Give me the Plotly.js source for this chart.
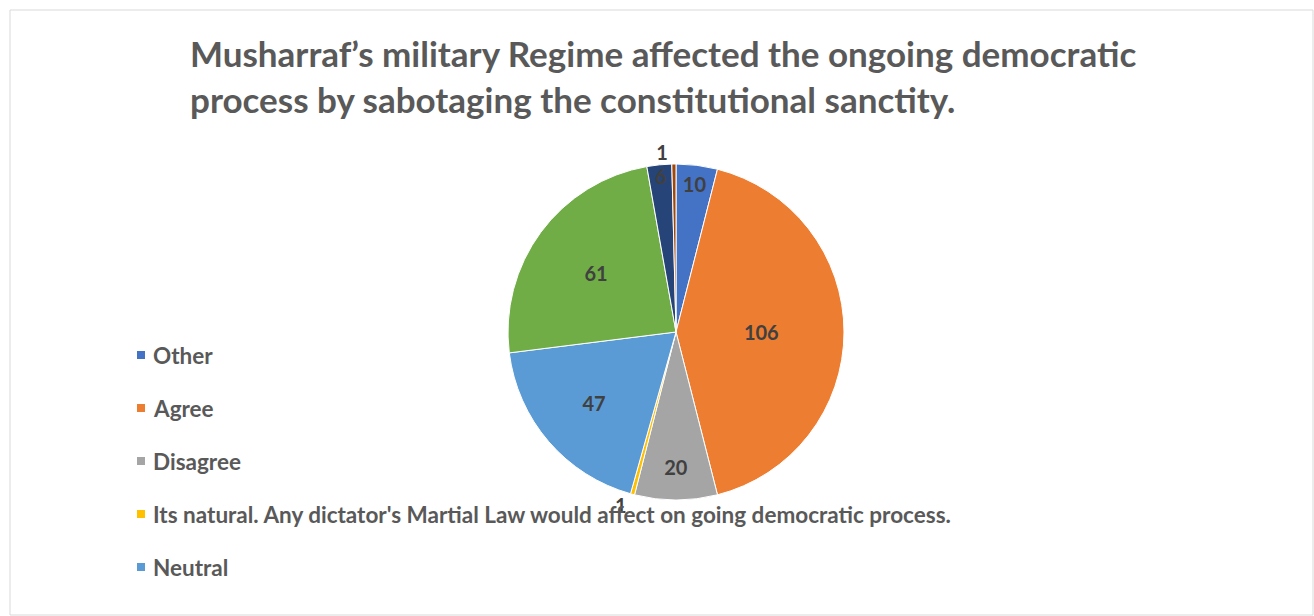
<!DOCTYPE html>
<html><head><meta charset="utf-8">
<script src="https://cdn.plot.ly/plotly-3.0.1.min.js"></script>
<style>html,body{margin:0;padding:0;background:#fff;}#chart{width:1314px;height:616px;}</style>
</head><body><div id="chart"></div>
<script>
const categories = ["Other", "Agree", "Disagree",
  "Its natural. Any dictator's Martial Law would affect on going democratic process.",
  "Neutral", "Strongly Agree", "Strongly Disagree", "No Response"];
const values = [10, 106, 20, 1, 47, 61, 6, 1];
const colors = ["#4472C4", "#ED7D31", "#A5A5A5", "#FFC000", "#5B9BD5", "#70AD47", "#264478", "#9E480E"];
const legendShown = 5;
const titleText = "Musharraf\u2019s military Regime affected the ongoing democratic<br>process by sabotaging the constitutional sanctity.";

const W = 1314, H = 616;
const px = x => x / W, py = y => 1 - y / H;

const textpos = values.map(v => v <= 1 ? "outside" : "inside");
const labelFont = {family: "Lato, 'Liberation Sans', sans-serif", size: 20, color: "#404040", weight: "bold"};

const trace = {
  type: "pie",
  labels: categories,
  values: values,
  sort: false,
  direction: "clockwise",
  rotation: 0,
  marker: {colors: colors, line: {color: "#ffffff", width: 1}},
  textinfo: "value",
  textposition: textpos,
  insidetextorientation: "horizontal",
  textfont: labelFont,
  outsidetextfont: labelFont,
  domain: {x: [px(506), px(846)], y: [py(500), py(164)]},
  showlegend: false,
  hoverinfo: "label+value+percent"
};

const annotations = [{
  text: titleText, xref: "paper", yref: "paper", x: px(188), y: py(30),
  xanchor: "left", yanchor: "top", align: "left", showarrow: false,
  font: {family: "Lato, 'Liberation Sans', sans-serif", size: 35, color: "#595959", weight: "bold"}
}];
const shapes = [{
  type: "rect", xref: "paper", yref: "paper", x0: px(10), x1: px(1313), y0: py(615), y1: py(10),
  line: {color: "#d9d9d9", width: 1}
}];
for (let i = 0; i < legendShown; i++) {
  const yc = 355 + i * 53;
  shapes.push({type: "rect", xref: "paper", yref: "paper",
    x0: px(137), x1: px(145), y0: py(yc + 4), y1: py(yc - 4),
    fillcolor: colors[i], line: {width: 0}});
  annotations.push({text: categories[i], xref: "paper", yref: "paper",
    x: px(151), y: py(yc), xanchor: "left", yanchor: "middle", showarrow: false,
    font: {family: "Lato, 'Liberation Sans', sans-serif", size: 22.5, color: "#595959", weight: "bold"}});
}

Plotly.newPlot("chart", [trace], {
  width: W, height: H,
  margin: {l: 0, r: 0, t: 0, b: 0},
  paper_bgcolor: "#ffffff",
  showlegend: false,
  uniformtext: {minsize: 20, mode: "show"},
  annotations: annotations,
  shapes: shapes
}, {displayModeBar: false, staticPlot: true});
</script></body></html>
